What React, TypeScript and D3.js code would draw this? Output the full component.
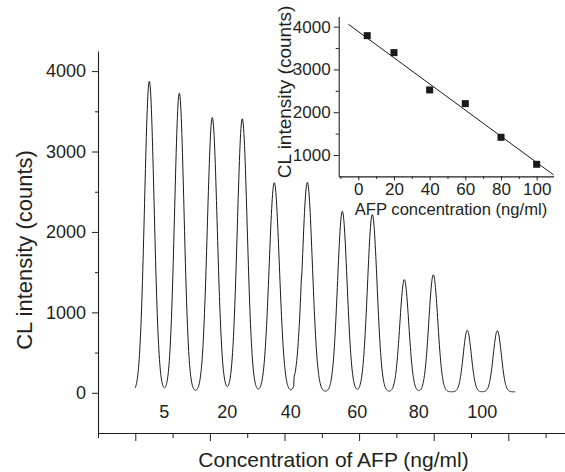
import React, { useEffect, useRef } from "react";
import * as d3 from "d3";

// ---- Main trace data (peak parameters) ----
const peakCenters = [11.88, 15.9, 20.32, 24.34, 28.63, 33.06, 37.75, 41.77, 46.06, 49.95, 54.5, 58.53];
const peakHeights = [3860, 3715, 3410, 3395, 2600, 2605, 2245, 2205, 1395, 1455, 765, 760];
const peakWidths = [0.64, 0.63, 0.66, 0.66, 0.68, 0.68, 0.64, 0.64, 0.6, 0.6, 0.54, 0.54];
const traceRange = [10, 60.94];
const traceBaseline = 12;
const stepArtifactRange = [31.25, 32.3];
const stepArtifactOffset = 95;

// group labels (AFP concentration, ng/ml) under each pair of peaks
const concLabels = ["5", "20", "40", "60", "80", "100"];

// main axes ticks
const mainYTicks = [0, 1000, 2000, 3000, 4000];
const mainYMinor = [500, 1500, 2500, 3500];
const mainXMajor = [10, 20, 30, 40, 50, 60];
const mainXMinor = [5, 15, 25, 35, 45, 55, 65];

// ---- Inset data ----
const insetConc = [5, 20, 40, 60, 80, 100];
const insetIntensity = [3790, 3393, 2521, 2201, 1414, 783];
const fitIntercept = 3885;
const fitSlope = -30.6;
const fitRange = [-5.6, 109.5];
const insetXTicks = [0, 20, 40, 60, 80, 100];
const insetXMinor = [-10, 10, 30, 50, 70, 90];
const insetYTicks = [1000, 2000, 3000, 4000];
const insetYMinor = [1500, 2500, 3500];

const FONT = "'Liberation Sans', Arial, Helvetica, sans-serif";
const INK = "#231f20";

function buildTrace(): [number, number][] {
  const pts: [number, number][] = [];
  const step = 0.04;
  for (let t = traceRange[0]; t <= traceRange[1] + 1e-9; t += step) {
    let v = traceBaseline;
    for (let i = 0; i < peakCenters.length; i++) {
      const z = (t - peakCenters[i]) / peakWidths[i];
      v += peakHeights[i] * Math.exp(-0.5 * z * z);
    }
    if (t >= stepArtifactRange[0] && t < stepArtifactRange[1]) v += stepArtifactOffset;
    pts.push([t, v]);
  }
  return pts;
}

export default function App() {
  const ref = useRef<SVGSVGElement | null>(null);

  useEffect(() => {
    document.body.style.margin = "0";
    const svg = d3.select(ref.current);
    svg.selectAll("*").remove();

    // ---------- main chart ----------
    const x = d3.scaleLinear().domain([5, 67.6]).range([98, 565]);
    const y = d3.scaleLinear().domain([-500, 4250]).range([433, 51]);

    const styleAxis = (g: any, fs: number) => {
      g.selectAll("path.domain").attr("stroke", INK).attr("stroke-width", 1.1);
      g.selectAll(".tick line").attr("stroke", INK).attr("stroke-width", 1);
      g.selectAll("text").attr("fill", INK).attr("font-family", FONT).attr("font-size", fs);
    };

    const gY = svg.append("g").attr("transform", `translate(${x(5)},0)`)
      .call(d3.axisLeft(y).tickValues(mainYTicks).tickSize(6).tickSizeOuter(0).tickPadding(6).tickFormat(d3.format("d")));
    styleAxis(gY, 18);
    const gYm = svg.append("g").attr("transform", `translate(${x(5)},0)`)
      .call(d3.axisLeft(y).tickValues(mainYMinor).tickSize(3).tickFormat(() => ""));
    gYm.select("path.domain").remove();
    styleAxis(gYm, 18);

    const gX = svg.append("g").attr("transform", `translate(0,${y(-500)})`)
      .call(d3.axisBottom(x).tickValues(mainXMajor).tickSize(8).tickSizeOuter(0).tickFormat(() => ""));
    styleAxis(gX, 18);
    const gXm = svg.append("g").attr("transform", `translate(0,${y(-500)})`)
      .call(d3.axisBottom(x).tickValues(mainXMinor).tickSize(5).tickFormat(() => ""));
    gXm.select("path.domain").remove();
    styleAxis(gXm, 18);

    // trace
    const trace = buildTrace();
    const line = d3.line<[number, number]>().x(d => x(d[0])).y(d => y(d[1]));
    svg.append("path").attr("d", line(trace)).attr("fill", "none").attr("stroke", "#1a1a1a").attr("stroke-width", 1);

    // concentration labels under peak pairs
    concLabels.forEach((lab, i) => {
      const mid = (peakCenters[2 * i] + peakCenters[2 * i + 1]) / 2;
      svg.append("text").attr("x", x(mid)).attr("y", 418).attr("text-anchor", "middle")
        .attr("font-family", FONT).attr("font-size", 18).attr("fill", INK).text(lab);
    });

    svg.append("text").attr("x", 333.5).attr("y", 466.5).attr("text-anchor", "middle")
      .attr("font-family", FONT).attr("font-size", 21).attr("fill", INK).text("Concentration of AFP (ng/ml)");
    svg.append("text").attr("transform", "translate(32,250) rotate(-90)").attr("text-anchor", "middle")
      .attr("font-family", FONT).attr("font-size", 22).attr("fill", INK).text("CL intensity (counts)");

    // ---------- inset ----------
    const ix = d3.scaleLinear().domain([-11, 109.5]).range([338.7, 553.6]);
    const iy = d3.scaleLinear().domain([500, 4240]).range([176.4, 16.4]);

    const giY = svg.append("g").attr("transform", `translate(${ix(-11)},0)`)
      .call(d3.axisLeft(iy).tickValues(insetYTicks).tickSize(5).tickSizeOuter(0).tickPadding(3).tickFormat(d3.format("d")));
    styleAxis(giY, 17);
    const giYm = svg.append("g").attr("transform", `translate(${ix(-11)},0)`)
      .call(d3.axisLeft(iy).tickValues(insetYMinor).tickSize(3).tickFormat(() => ""));
    giYm.select("path.domain").remove();
    styleAxis(giYm, 17);

    const giX = svg.append("g").attr("transform", `translate(0,${iy(500)})`)
      .call(d3.axisBottom(ix).tickValues(insetXTicks).tickSize(4).tickSizeOuter(0).tickPadding(2.5).tickFormat(d3.format("d")));
    styleAxis(giX, 17);
    const giXm = svg.append("g").attr("transform", `translate(0,${iy(500)})`)
      .call(d3.axisBottom(ix).tickValues(insetXMinor).tickSize(2.5).tickFormat(() => ""));
    giXm.select("path.domain").remove();
    styleAxis(giXm, 17);

    // fit line
    svg.append("line")
      .attr("x1", ix(fitRange[0])).attr("y1", iy(fitIntercept + fitSlope * fitRange[0]))
      .attr("x2", ix(fitRange[1])).attr("y2", iy(fitIntercept + fitSlope * fitRange[1]))
      .attr("stroke", "#1a1a1a").attr("stroke-width", 1);

    // markers
    const sq = 7;
    svg.append("g").selectAll("rect").data(insetConc).join("rect")
      .attr("x", (d) => ix(d) - sq / 2)
      .attr("y", (_d, i) => iy(insetIntensity[i]) - sq / 2)
      .attr("width", sq).attr("height", sq).attr("fill", "#1a1a1a");

    svg.append("text").attr("x", 451).attr("y", 215).attr("text-anchor", "middle")
      .attr("font-family", FONT).attr("font-size", 16.6).attr("fill", INK).text("AFP concentration (ng/ml)");
    svg.append("text").attr("transform", "translate(291,92) rotate(-90)").attr("text-anchor", "middle")
      .attr("font-family", FONT).attr("font-size", 19).attr("fill", INK).text("CL intensity (counts)");
  }, []);

  return (
    <svg ref={ref} width={565} height={472} style={{ position: "absolute", left: 0, top: 0, background: "#fff" }} />
  );
}
